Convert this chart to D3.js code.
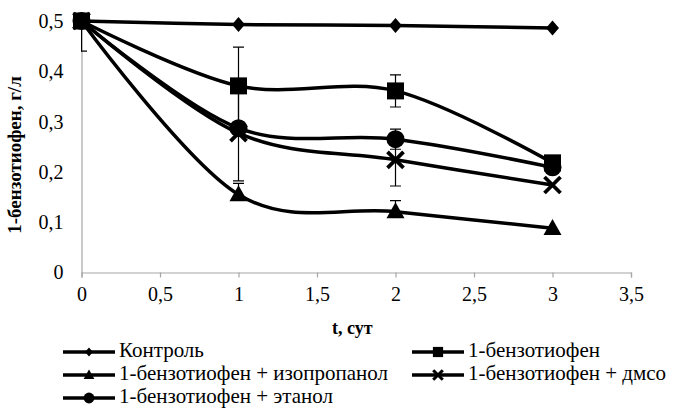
<!DOCTYPE html>
<html>
<head>
<meta charset="utf-8">
<script src="https://cdn.jsdelivr.net/npm/d3@7"></script>
<style>
  html, body { margin: 0; padding: 0; background: #fff; }
  svg { display: block; }
</style>
</head>
<body>
<svg id="chart" width="674" height="414"></svg>
<script>
// Sampling times, days
const days = [0, 1, 2, 3];

// 1-benzothiophene concentration, g/L, per condition
const control   = [0.500, 0.493, 0.491, 0.486];
const btOnly    = [0.500, 0.371, 0.361, 0.218];
const btIso     = [0.500, 0.155, 0.121, 0.088];
const btDmso    = [0.500, 0.277, 0.224, 0.174];
const btEthanol = [0.500, 0.287, 0.265, 0.209];

// Error bar half-widths, g/L
const errControl = [0, 0, 0, 0];
const errBtOnly  = [0.060, 0.077, 0.032, 0];
const errIso     = [0, 0.022, 0.022, 0];
const errDmso    = [0, 0.095, 0.052, 0];
const errEthanol = [0, 0, 0.020, 0];
// Error bar direction per series
const errDirection = ["both", "both", "plus", "both", "both"];

const seriesNames = [
  "Контроль",
  "1-бензотиофен",
  "1-бензотиофен + изопропанол",
  "1-бензотиофен + дмсо",
  "1-бензотиофен + этанол"
];
const seriesShapes = ["diamond", "square", "triangle", "cross", "circle"];

const xTicks = [0, 0.5, 1, 1.5, 2, 2.5, 3, 3.5];
const yTicks = [0, 0.1, 0.2, 0.3, 0.4, 0.5];

const xTitle = "t, сут";
const yTitle = "1-бензотиофен, г/л";

const FONT = '"Liberation Serif", "Times New Roman", serif';

const series = [control, btOnly, btIso, btDmso, btEthanol].map((vals, i) => ({
  name: seriesNames[i],
  shape: seriesShapes[i],
  err: [errControl, errBtOnly, errIso, errDmso, errEthanol][i],
  dir: errDirection[i],
  points: days.map((t, j) => ({ t, v: vals[j] }))
}));

const svg = d3.select("#chart");
const plotL = 81.5, plotR = 631, plotT = 21, plotB = 272.5;

const x = d3.scaleLinear().domain([0, 3.5]).range([plotL, plotR]);
const y = d3.scaleLinear().domain([0, 0.5]).range([plotB, plotT]);

const fmt = d => String(d).replace(".", ",");
const axisColor = "#a6a6a6";

// Marker outline generator (centered at 0,0), scale factor s
function markerPath(shape, s) {
  const p = d3.path();
  if (shape === "diamond") {
    const w = 6.5 * s, h = 7.5 * s;
    p.moveTo(0, -h); p.lineTo(w, 0); p.lineTo(0, h); p.lineTo(-w, 0); p.closePath();
  } else if (shape === "square") {
    const a = 8.5 * s;
    p.rect(-a, -a, 2 * a, 2 * a);
  } else if (shape === "triangle") {
    const w = 9 * s, h = 16 * s;
    p.moveTo(0, -h * 0.58); p.lineTo(w, h * 0.42); p.lineTo(-w, h * 0.42); p.closePath();
  } else if (shape === "circle") {
    p.arc(0, 0, 9 * s, 0, 2 * Math.PI);
  }
  return p.toString();
}

function drawMarker(g, shape, cx, cy, s) {
  if (shape === "cross") {
    const a = 8 * s;
    g.append("path")
      .attr("d", `M${cx - a},${cy - a}L${cx + a},${cy + a}M${cx - a},${cy + a}L${cx + a},${cy - a}`)
      .attr("stroke", "#000").attr("stroke-width", 3.8 * Math.max(s, 0.8)).attr("fill", "none");
  } else {
    g.append("path")
      .attr("d", markerPath(shape, s))
      .attr("transform", `translate(${cx},${cy})`)
      .attr("fill", "#000");
  }
}

// Axes
const xAxis = d3.axisBottom(x).tickValues(xTicks).tickSize(5).tickFormat(fmt);
const gx = svg.append("g").attr("transform", `translate(0,${plotB})`).call(xAxis);
gx.select(".domain").attr("stroke", axisColor).attr("stroke-width", 1.2);
gx.selectAll(".tick line").attr("stroke", axisColor).attr("stroke-width", 1.2);
gx.selectAll(".tick text")
  .attr("y", 14).attr("fill", "#000")
  .style("font-family", FONT).style("font-size", "20px");

const yAxis = d3.axisLeft(y).tickValues(yTicks).tickSize(0).tickPadding(18).tickFormat(fmt);
const gy = svg.append("g").attr("transform", `translate(${plotL},0)`).call(yAxis);
gy.select(".domain").attr("stroke", axisColor).attr("stroke-width", 1.2);
gy.selectAll(".tick text").attr("fill", "#000")
  .style("font-family", FONT).style("font-size", "20px");

// Axis titles
svg.append("text")
  .attr("x", (plotL + plotR) / 2 - 4).attr("y", 330)
  .attr("text-anchor", "middle").attr("dominant-baseline", "middle")
  .style("font-family", FONT).style("font-size", "18px").style("font-weight", "bold")
  .text(xTitle);

svg.append("text")
  .attr("transform", `translate(17,155) rotate(-90)`)
  .attr("text-anchor", "middle").attr("dominant-baseline", "middle")
  .style("font-family", FONT).style("font-size", "19px").style("font-weight", "bold")
  .text(yTitle);

// Clip for error bars: kept inside the plot frame
svg.append("clipPath").attr("id", "plotClip")
  .append("rect").attr("x", plotL - 0.5).attr("y", plotT - 9)
  .attr("width", plotR - plotL + 10).attr("height", plotB - plotT + 9);

const line = d3.line()
  .x(d => x(d.t)).y(d => y(d.v))
  .curve(d3.curveCardinal.tension(0));

const plot = svg.append("g");

// Smoothed series lines
series.forEach(s => {
  plot.append("path")
    .datum(s.points)
    .attr("d", line)
    .attr("fill", "none")
    .attr("stroke", "#000")
    .attr("stroke-width", 3.5)
    .attr("stroke-linejoin", "round");
});

// Error bars
const eb = plot.append("g").attr("clip-path", "url(#plotClip)");
series.forEach(s => {
  s.points.forEach((p, j) => {
    const e = s.err[j];
    if (!e) return;
    const cx = x(p.t);
    const y1 = y(p.v + e);
    const y2 = s.dir === "plus" ? y(p.v) : y(p.v - e);
    eb.append("line").attr("x1", cx).attr("x2", cx).attr("y1", y1).attr("y2", y2)
      .attr("stroke", "#000").attr("stroke-width", 1.2);
    const caps = s.dir === "plus" ? [y1] : [y1, y2];
    caps.forEach(yy => {
      eb.append("line").attr("x1", cx - 5.5).attr("x2", cx + 5.5).attr("y1", yy).attr("y2", yy)
        .attr("stroke", "#000").attr("stroke-width", 1.2);
    });
  });
});

// Markers
const mk = plot.append("g");
series.forEach(s => {
  s.points.forEach(p => drawMarker(mk, s.shape, x(p.t), y(p.v), 1));
});

// Legend
const legendPos = [
  { lx: 63, ly: 352 }, { lx: 412, ly: 352 },
  { lx: 63, ly: 375 }, { lx: 412, ly: 375 },
  { lx: 63, ly: 398 }
];
const lg = svg.append("g");
series.forEach((s, i) => {
  const { lx, ly } = legendPos[i];
  lg.append("line").attr("x1", lx).attr("x2", lx + 52).attr("y1", ly).attr("y2", ly)
    .attr("stroke", "#000").attr("stroke-width", 3.5);
  drawMarker(lg, s.shape, lx + 26, ly, 0.6);
  lg.append("text")
    .attr("x", lx + 56).attr("y", ly)
    .attr("dominant-baseline", "middle")
    .style("font-family", FONT).style("font-size", "21px")
    .text(s.name);
});
</script>
</body>
</html>
